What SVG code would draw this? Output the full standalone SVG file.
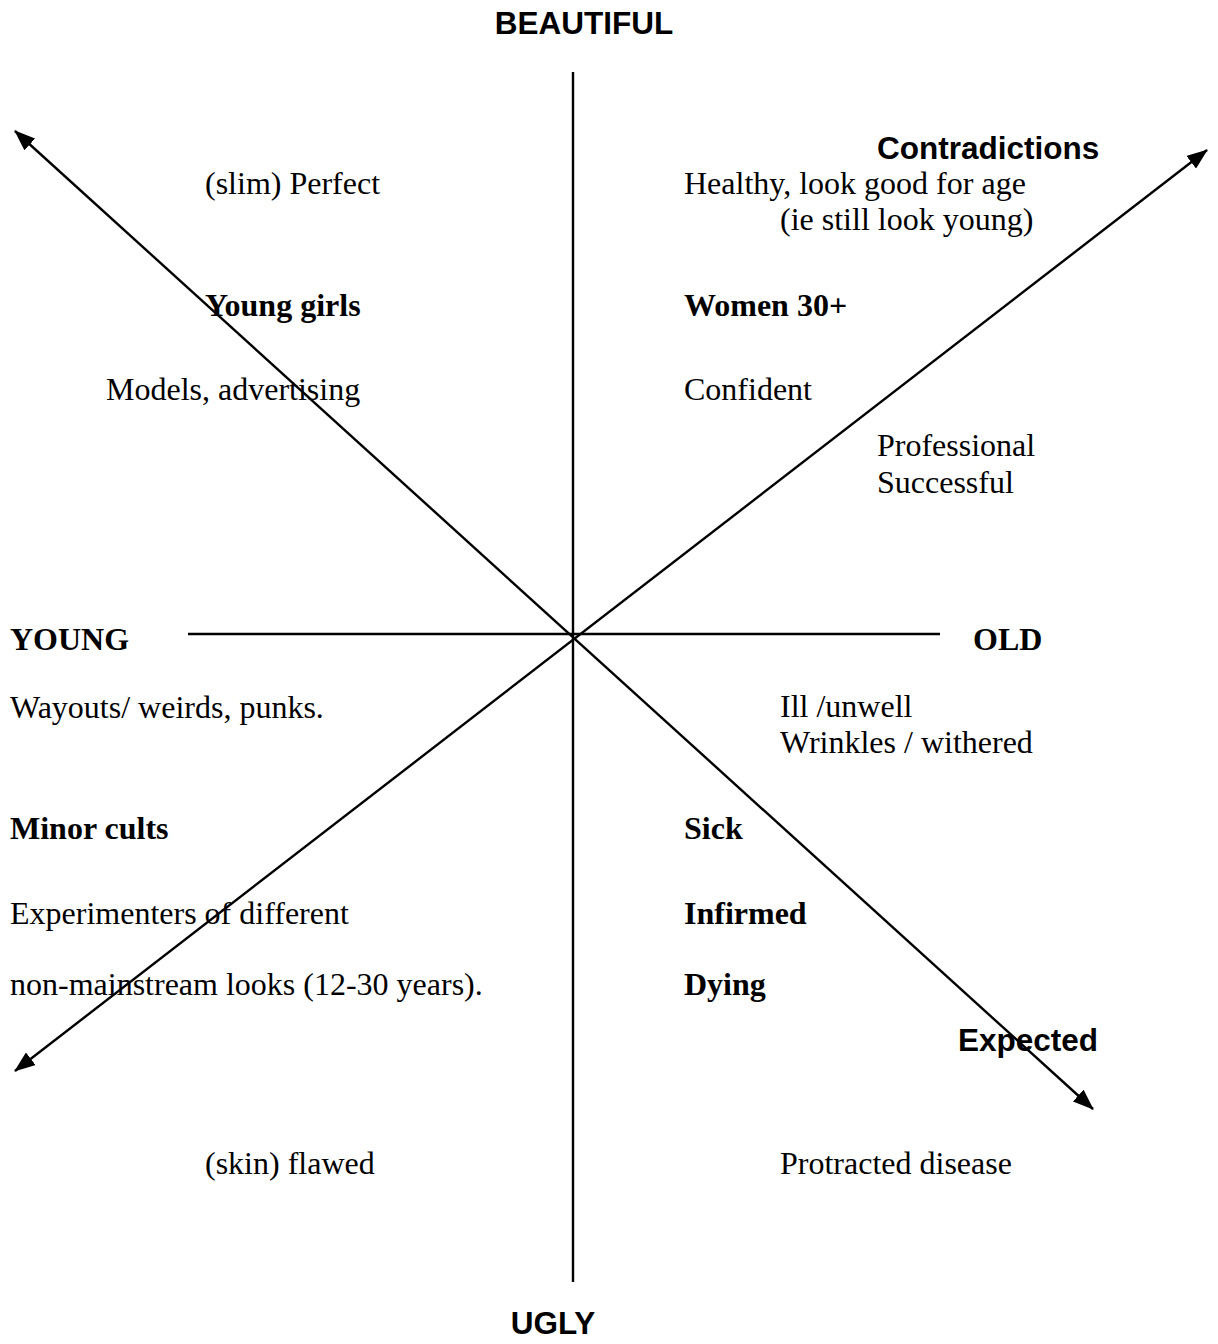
<svg xmlns="http://www.w3.org/2000/svg" width="1218" height="1344" viewBox="0 0 1218 1344">
<style>
.s{font-family:"Liberation Serif","Times New Roman",serif;font-size:32px;fill:#000}
.b{font-weight:bold}
.a{font-family:"Liberation Sans",Arial,sans-serif;font-size:31.5px;font-weight:bold;fill:#000}
.ln{stroke:#000;stroke-width:2.4;fill:none}
</style>
<defs>
<marker id="ah" viewBox="0 0 21 16" refX="20" refY="8" markerWidth="21" markerHeight="16" markerUnits="userSpaceOnUse" orient="auto-start-reverse">
<path d="M0,0 L21,8 L0,16 z" fill="#000"/>
</marker>
</defs>
<rect width="1218" height="1344" fill="#fff"/>
<g id="connectors">
<line class="ln" x1="573" y1="72" x2="573" y2="1282"/>
<line class="ln" x1="188" y1="634" x2="940" y2="634"/>
<line class="ln" x1="1093" y1="1109" x2="15" y2="131" marker-start="url(#ah)" marker-end="url(#ah)"/>
<line class="ln" x1="15" y1="1071" x2="1207" y2="150" marker-start="url(#ah)" marker-end="url(#ah)"/>
</g>
<g id="axis-labels">
<text class="a" x="584" y="34" text-anchor="middle">BEAUTIFUL</text>
<text class="a" x="553" y="1334" text-anchor="middle">UGLY</text>
<text class="s b" x="10" y="650">YOUNG</text>
<text class="s b" x="973" y="650">OLD</text>
<text class="a" x="877" y="159">Contradictions</text>
<text class="a" x="958" y="1051">Expected</text>
</g>
<g id="top-left">
<text class="s" x="205" y="194">(slim) Perfect</text>
<text class="s b" x="205" y="316">Young girls</text>
<text class="s" x="106" y="400">Models, advertising</text>
</g>
<g id="top-right">
<text class="s" x="684" y="194">Healthy, look good for age</text>
<text class="s" x="780" y="230">(ie still look young)</text>
<text class="s b" x="684" y="316">Women 30+</text>
<text class="s" x="684" y="400">Confident</text>
<text class="s" x="877" y="456">Professional</text>
<text class="s" x="877" y="493">Successful</text>
</g>
<g id="bottom-left">
<text class="s" x="10" y="718">Wayouts/ weirds, punks.</text>
<text class="s b" x="10" y="839">Minor cults</text>
<text class="s" x="10" y="924">Experimenters of different</text>
<text class="s" x="10" y="995">non-mainstream looks (12-30 years).</text>
<text class="s" x="205" y="1174">(skin) flawed</text>
</g>
<g id="bottom-right">
<text class="s" x="780" y="717">Ill /unwell</text>
<text class="s" x="780" y="753">Wrinkles / withered</text>
<text class="s b" x="684" y="839">Sick</text>
<text class="s b" x="684" y="924">Infirmed</text>
<text class="s b" x="684" y="995">Dying</text>
<text class="s" x="780" y="1174">Protracted disease</text>
</g>
</svg>
